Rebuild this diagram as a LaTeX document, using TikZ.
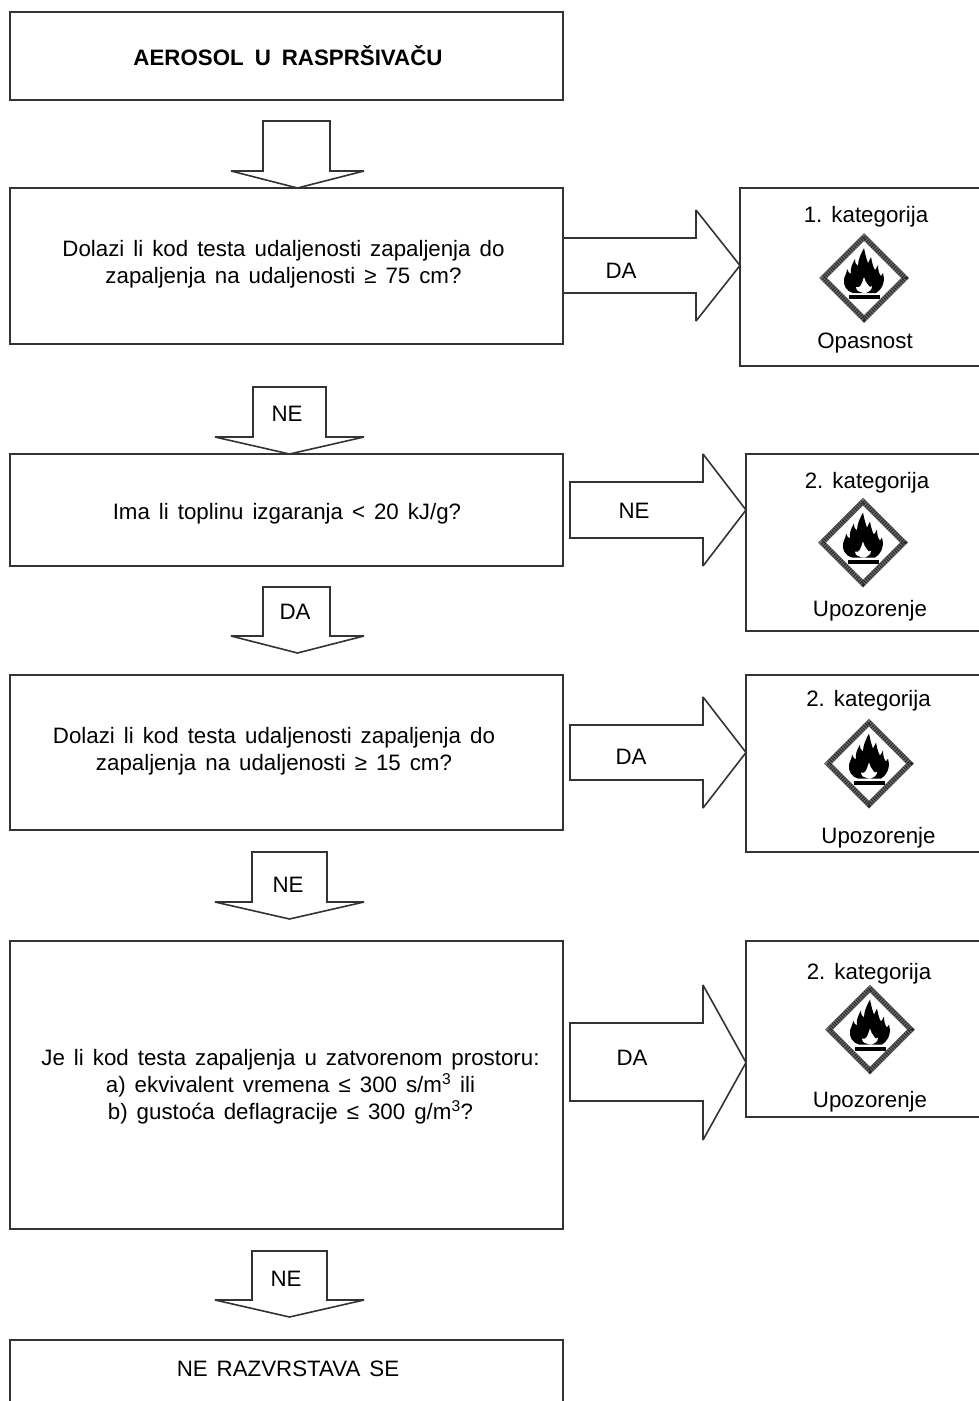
\documentclass[tikz,border=0pt]{standalone}
\usepackage{fontspec}
\setmainfont{Liberation Sans}
\usetikzlibrary{calc}
\definecolor{ink}{gray}{0.2}
\newcommand{\bodyfnt}{\fontsize{22.3}{27}\selectfont\setlength{\spaceskip}{9pt}}
\newcommand{\catfnt}{\fontsize{22.3}{27}\selectfont\setlength{\spaceskip}{7pt}}
\newcommand{\titlefnt}{\fontsize{22.3}{27}\selectfont\bfseries\setlength{\spaceskip}{11pt}}
\tikzset{
  x=1pt,y=-1pt,
  box/.style={draw=ink,line width=1.9pt,line join=miter},
  blockarrow/.style={draw=ink,line width=1.6pt,miter limit=1.5,fill=white},
  txt/.style={font=\bodyfnt,text=black,align=center,inner sep=0pt,anchor=center},
  cattxt/.style={txt,font=\catfnt},
  titletxt/.style={txt,font=\titlefnt},
}
\newcommand{\downarr}[6]{% left right top shoulder headleft headright
  \draw[blockarrow] (#1,#3) -- (#2,#3) -- (#2,#4) -- (#6,#4) -- ({(#5+#6)/2},{#4+17}) -- (#5,#4) -- (#1,#4) -- cycle;}
\newcommand{\rightarr}[7]{% x0 x1 top bottom headtop headbottom tipx
  \draw[blockarrow] (#1,#3) -- (#2,#3) -- (#2,#5) -- (#7,{(#5+#6)/2}) -- (#2,#6) -- (#2,#4) -- (#1,#4) -- cycle;}
\newcommand{\flamesign}[2]{%
  \begin{scope}[shift={(#1,#2)}]
    \fill[black!58,even odd rule] (0,-45) -- (45,0) -- (0,45) -- (-45,0) -- cycle (0,-37) -- (37,0) -- (0,37) -- (-37,0) -- cycle;
    \draw[draw=black!85,line width=4.6pt,dash pattern=on 0.9pt off 1.5pt,line cap=butt] (0,-41) -- (41,0) -- (0,41) -- (-41,0) -- cycle;
    \fill[black] (-11,15)
      .. controls (-18,13) and (-21,7) .. (-20,1)
      .. controls (-19,-3) and (-17,-5) .. (-17,-9)
      .. controls (-16,-6) and (-15,-5) .. (-13,-4)
      .. controls (-14,-9) and (-12,-14) .. (-9,-19)
      .. controls (-9,-15) and (-8,-13) .. (-6,-12)
      .. controls (-6,-19) and (-3,-24) .. (0,-30)
      .. controls (1,-25) and (2,-20) .. (4,-15)
      .. controls (5,-17) and (6,-19) .. (7,-21)
      .. controls (8,-16) and (9,-11) .. (11,-8)
      .. controls (12,-9) and (13,-11) .. (14,-13)
      .. controls (14,-8) and (15,-4) .. (17,-2)
      .. controls (18,-3) and (18,-4) .. (19,-5)
      .. controls (21,1) and (20,10) .. (12,15) -- cycle;
    \fill[white] (-1,15)
      .. controls (-4,14) and (-8,13) .. (-8,9)
      .. controls (-6,10) and (-4,9) .. (-3,7)
      .. controls (-2,5) and (-1,2) .. (0,-1)
      .. controls (1,2) and (2,5) .. (4,7)
      .. controls (5,9) and (7,10) .. (8,8)
      .. controls (8,12) and (5,14) .. (2,15) -- cycle;
    \fill[black] (-15,17) rectangle (16,21);
  \end{scope}}
\begin{document}
\begin{tikzpicture}
\useasboundingbox (0,0) rectangle (979,1401);
\fill[white] (0,0) rectangle (979,1401);
% left boxes
\draw[box] (10,12) rectangle (563,100);
\draw[box] (10,188) rectangle (563,344);
\draw[box] (10,454) rectangle (563,566);
\draw[box] (10,675) rectangle (563,830);
\draw[box] (10,941) rectangle (563,1229);
\draw[box] (10,1402) -- (10,1340) -- (563,1340) -- (563,1402);
% category boxes
\draw[box] (981,188) -- (740,188) -- (740,366) -- (981,366);
\draw[box] (981,454) -- (746,454) -- (746,631) -- (981,631);
\draw[box] (981,675) -- (746,675) -- (746,852) -- (981,852);
\draw[box] (981,941) -- (746,941) -- (746,1117) -- (981,1117);
% down arrows
\downarr{263}{330}{121}{171}{231}{364}
\downarr{253}{326}{387}{437}{215}{364}
\downarr{263}{330}{587}{636}{231}{364}
\downarr{252}{327}{852}{902}{215}{364}
\downarr{252}{327}{1251}{1300}{215}{364}
% right arrows
\rightarr{563}{696}{238}{293}{210}{321}{740}
\rightarr{570}{703}{482}{538}{454}{566}{746}
\rightarr{570}{703}{725}{780}{697}{808}{746}
\rightarr{570}{703}{1023}{1101}{985}{1140}{746}
% texts
\node[titletxt] (t0) at (288,56) {AEROSOL U RASPRŠIVAČU};
\node[txt] (t1) at (283.5,264) {Dolazi li kod testa udaljenosti zapaljenja do\\zapaljenja na udaljenosti ≥ 75 cm?};
\node[txt] (t2) at (287,513.5) {Ima li toplinu izgaranja < 20 kJ/g?};
\node[txt] (t3) at (274,751) {Dolazi li kod testa udaljenosti zapaljenja do\\zapaljenja na udaljenosti ≥ 15 cm?};
\node[txt] (t4) at (290.5,1086.5) {Je li kod testa zapaljenja u zatvorenom prostoru:\\a) ekvivalent vremena ≤ 300 s/m\textsuperscript{3} ili\\b) gustoća deflagracije ≤ 300 g/m\textsuperscript{3}?};
\node[txt] (t5) at (288,1369) {NE RAZVRSTAVA SE};
\node[txt] (l1) at (621,271) {DA};
\node[txt] (l2) at (287,414) {NE};
\node[txt] (l3) at (634,511) {NE};
\node[txt] (l4) at (295,612) {DA};
\node[txt] (l5) at (631,757) {DA};
\node[txt] (l6) at (288,885) {NE};
\node[txt] (l7) at (632,1058) {DA};
\node[txt] (l8) at (286,1279) {NE};
\node[cattxt] (c1) at (866,216.5) {1. kategorija};
\node[cattxt] (c2) at (867,482.5) {2. kategorija};
\node[cattxt] (c3) at (868.5,700.5) {2. kategorija};
\node[cattxt] (c4) at (869,973.5) {2. kategorija};
\node[txt] (w1) at (865,343.5) {Opasnost};
\node[txt] (w2) at (870,610.5) {Upozorenje};
\node[txt] (w3) at (878.5,837.5) {Upozorenje};
\node[txt] (w4) at (870,1101.5) {Upozorenje};
\flamesign{864}{278}
\flamesign{863}{542.5}
\flamesign{869}{763.5}
\flamesign{870}{1029.5}
\end{tikzpicture}
\end{document}
